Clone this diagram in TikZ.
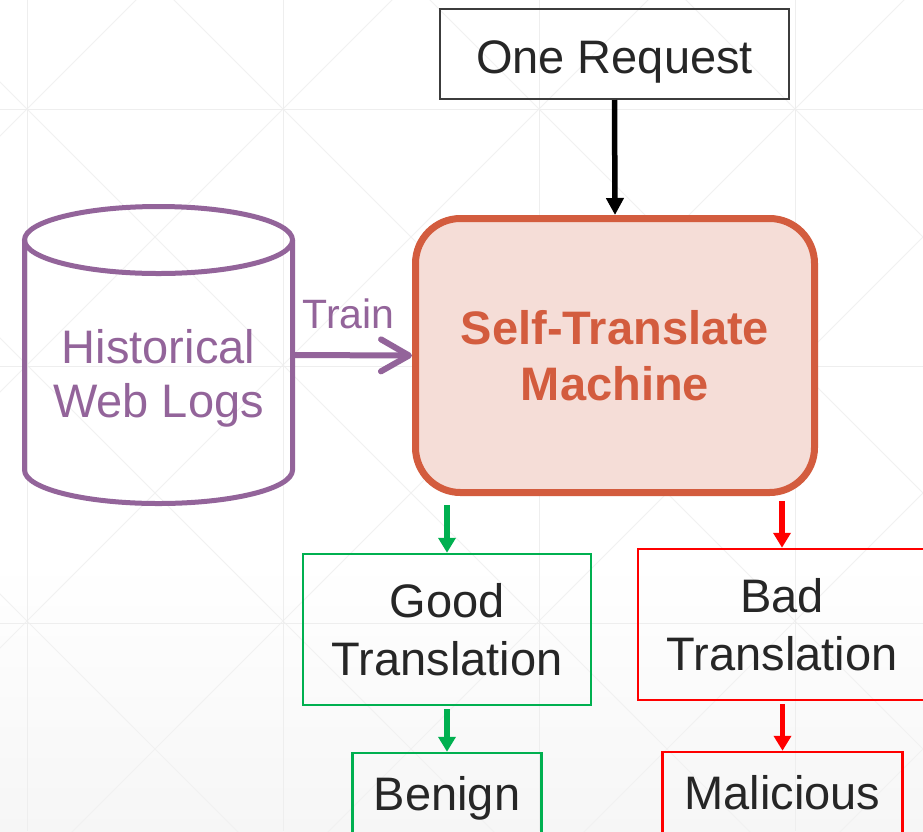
\documentclass[tikz,border=0pt]{standalone}
\usepackage{fontspec}
\setmainfont{Liberation Sans}
\usetikzlibrary{arrows.meta,calc}
\definecolor{purp}{HTML}{93649A}
\definecolor{stmline}{HTML}{D35C3E}
\definecolor{stmfill}{HTML}{F5DDD7}
\definecolor{goodgreen}{HTML}{00B050}
\definecolor{badred}{HTML}{FF0000}
\definecolor{txt}{HTML}{262626}
\definecolor{gridc}{HTML}{EEEEEE}
\definecolor{diagc}{HTML}{F1F1F1}
\begin{document}
\begin{tikzpicture}[x=1pt,y=-1pt,
  gridline/.style={draw=gridc,line width=1pt},
  diagline/.style={draw=diagc,line width=1pt},
  box/.style={inner sep=0pt,align=center,text=txt,font=\fontsize{47}{58}\selectfont},
  greenbox/.style={box,draw=goodgreen,line width=2.5pt},
  redbox/.style={box,draw=badred,line width=2.5pt},
  blkarrow/.style={draw=black,line width=5.5pt,-{Triangle[length=17pt,width=17pt]}},
  greenarrow/.style={draw=goodgreen,line width=5.5pt,-{Triangle[length=15pt,width=17pt]}},
  redarrow/.style={draw=badred,line width=5.5pt,-{Triangle[length=15pt,width=17pt]}},
  trainarrow/.style={draw=purp,line width=6pt,-{Straight Barb[round,length=28pt,width=32pt]}}
]
\useasboundingbox (0,0) rectangle (923,831);
\fill[white] (0,0) rectangle (923,831);
\shade[top color=white,bottom color=black!3.5] (0,560) rectangle (923,831);
\begin{scope}
  \clip (0,0) rectangle (923,831);
  \foreach \k in {-4,...,4} {
    \pgfmathsetmacro\c{-82+256*\k}
    \draw[diagline] (\c-50,-50) -- (\c+950,950);
  }
  \foreach \k in {-2,...,7} {
    \pgfmathsetmacro\c{136+256*\k}
    \draw[diagline] (\c+50,-50) -- (\c-950,950);
  }
  \foreach \x in {27,283,539,795} \draw[gridline] (\x,0) -- (\x,831);
  \foreach \y in {109,366,623} \draw[gridline] (0,\y) -- (923,\y);
\end{scope}

% cylinder
\node[minimum width=268pt,minimum height=297pt,inner sep=0pt] (db) at (158.5,355) {};
\draw[purp,line width=5pt] (24.5,240) -- (24.5,470)
  arc[start angle=180,end angle=0,x radius=134,y radius=33.5] -- (292.5,240);
\draw[purp,line width=5pt] (158.5,240) ellipse[x radius=134,y radius=33.5];
\node[inner sep=0pt,align=center,text=purp,font=\fontsize{47}{54}\selectfont] (histtxt) at (158.5,378) {Historical\\Web Logs};

% nodes
\node[box,draw=txt!90,line width=2pt,minimum width=349pt,minimum height=90pt,text height=38pt,text depth=0pt] (req) at (614.5,54) {One Request};
\node[inner sep=0pt,align=center,draw=stmline,fill=stmfill,line width=7pt,rounded corners=45pt,
  minimum width=399pt,minimum height=274pt,text=stmline,font=\fontsize{47}{56}\selectfont\bfseries] (stm) at (615,355.5) {Self-Translate\\Machine};
\node[greenbox,minimum width=288pt,minimum height=151pt] (good) at (447,629.5) {Good\\Translation};
\node[redbox,minimum width=288pt,minimum height=151pt] (bad) at (782,624.5) {Bad\\Translation};
\node[greenbox,minimum width=189pt,minimum height=92pt,text height=34pt,text depth=12pt] (benign) at (447,799) {Benign};
\node[redbox,minimum width=240pt,minimum height=92pt,text height=34pt,text depth=12pt] (mal) at (782.5,798) {Malicious};

% connectors
\draw[blkarrow] (req.south) -- (stm.north);
\draw[trainarrow] (db.east) -- (stm.west);
\node[anchor=base,inner sep=0pt,text=purp,font=\fontsize{41}{48}\selectfont] (trainlbl) at (348.5,328) {Train};
\draw[greenarrow,shorten <=9pt] (stm.south -| good.north) -- (good.north);
\draw[redarrow,shorten <=5pt] (stm.south -| bad.north) -- (bad.north);
\draw[greenarrow,shorten <=3pt] (good.south) -- (benign.north);
\draw[redarrow,shorten <=3pt] (bad.south -| mal.north) -- (mal.north);
\end{tikzpicture}
\end{document}
